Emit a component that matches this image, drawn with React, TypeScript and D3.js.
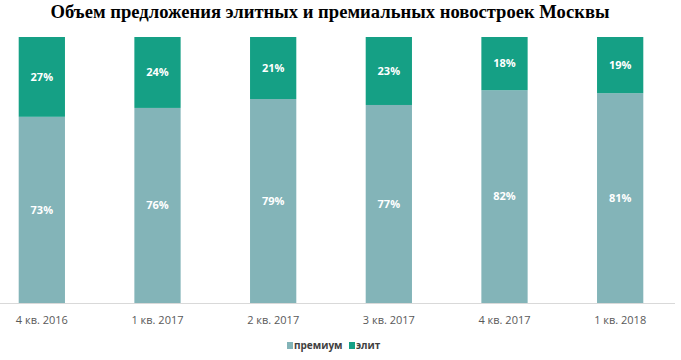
import React from "react";
import * as d3 from "d3";

const categories = ["4 кв. 2016", "1 кв. 2017", "2 кв. 2017", "3 кв. 2017", "4 кв. 2017", "1 кв. 2018"];
const premium = [73, 76, 79, 77, 82, 81];
const elite = [27, 24, 21, 23, 18, 19];
const seriesNames = ["премиум", "элит"];
const colors = ["#83b4b8", "#15a085"];
const title = "Объем предложения элитных и премиальных новостроек Москвы";

const W = 681;
const H = 360;

export default function App() {
  const x = d3.scaleBand<string>().domain(categories).range([-16, 678]).paddingInner(0.6).paddingOuter(0.3);
  const y = d3.scaleLinear().domain([10, 100]).range([303, 37]);
  const rows = categories.map((c, i) => ({ cat: c, premium: premium[i], elite: elite[i] }));
  const stack = d3.stack<any>().keys(["premium", "elite"]);
  const layers = stack(rows);
  const yb = (v: number) => y(Math.max(v, 10));

  return (
    <svg width={W} height={H} style={{ position: "absolute", left: 0, top: 0, background: "#fff" }}>
      <text x={330} y={17.5} textAnchor="middle" fontFamily="'Liberation Serif', 'Times New Roman', serif" fontWeight="bold" fontSize={18.6} fill="#000">
        {title}
      </text>
      {layers.map((layer, li) => (
        <g key={li}>
          {layer.map((d, i) => {
            const x0 = x(categories[i])!;
            const top = yb(d[1]);
            const bot = yb(d[0]);
            const val = li === 0 ? premium[i] : elite[i];
            return (
              <g key={i}>
                <rect x={x0} y={top} width={x.bandwidth()} height={bot - top} fill={colors[li]} />
                <text x={x0 + x.bandwidth() / 2} y={(top + bot) / 2} dy="0.35em" textAnchor="middle" fontFamily="'Open Sans', sans-serif" fontWeight="bold" fontSize={11} fill="#fff">
                  {val}%
                </text>
              </g>
            );
          })}
        </g>
      ))}
      <line x1={0} x2={675} y1={303.5} y2={303.5} stroke="#d9d9d9" strokeWidth={1} />
      {categories.map((c) => (
        <text key={c} x={x(c)! + x.bandwidth() / 2} y={320} dy="0.35em" textAnchor="middle" fontFamily="'Open Sans', sans-serif" fontSize={11} fill="#595959">
          {c}
        </text>
      ))}
      <g transform="translate(287,345.5)">
        {seriesNames.map((s, i) => {
          const ox = i === 0 ? 0 : 62;
          return (
            <g key={s} transform={`translate(${ox},0)`}>
              <rect x={0} y={-3.5} width={6} height={7} fill={colors[i]} />
              <text x={7} y={0} dy="0.35em" fontFamily="'Open Sans', sans-serif" fontWeight="bold" fontSize={10} fill="#404040">
                {s}
              </text>
            </g>
          );
        })}
      </g>
    </svg>
  );
}
